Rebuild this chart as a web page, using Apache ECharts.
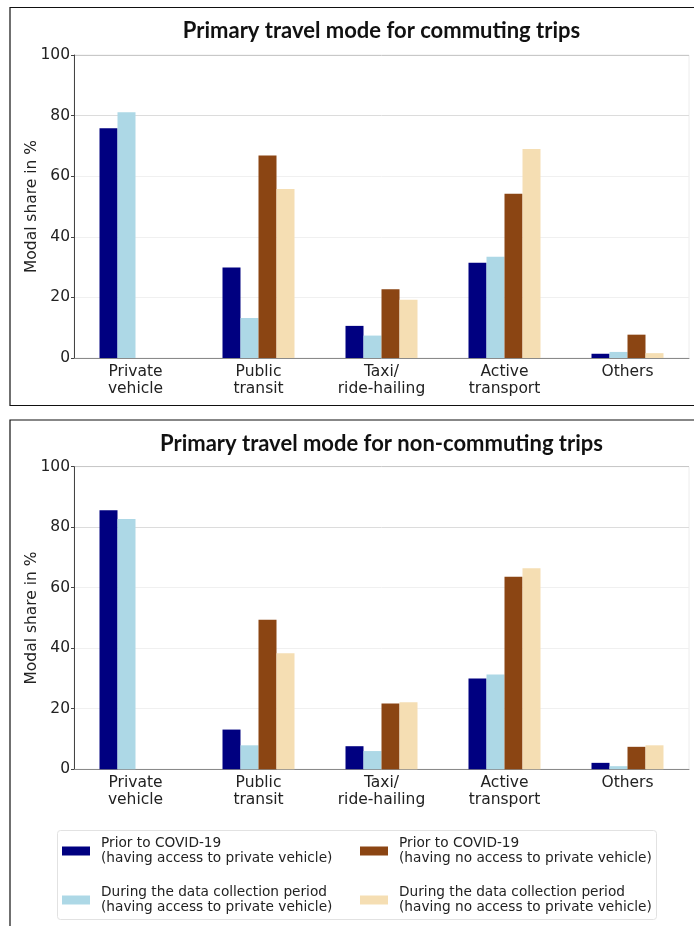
<!DOCTYPE html>
<html>
<head>
<meta charset="utf-8">
<script src="https://cdn.jsdelivr.net/npm/echarts@6/dist/echarts.min.js"></script>
<style>
  html, body { margin: 0; padding: 0; background: #fff; }
  #chart { width: 694px; height: 926px; }
</style>
</head>
<body>
<div id="chart"></div>
<script>
// Travel mode categories (x axis)
const categories = ['Private\nvehicle', 'Public\ntransit', 'Taxi/\nride-hailing', 'Active\ntransport', 'Others'];

// Legend / series labels
const seriesNames = [
  'Prior to COVID-19\n(having access to private vehicle)',
  'During the data collection period\n(having access to private vehicle)',
  'Prior to COVID-19\n(having no access to private vehicle)',
  'During the data collection period\n(having no access to private vehicle)'
];

// Modal share (%) — commuting trips
const commuteAccessPrior     = [75.8, 29.9, 10.6, 31.4, 1.4];
const commuteAccessDuring    = [81.1, 13.2, 7.4, 33.4, 2.0];
const commuteNoAccessPrior   = [null, 66.8, 22.7, 54.2, 7.7];
const commuteNoAccessDuring  = [null, 55.8, 19.2, 69.0, 1.6];

// Modal share (%) — non-commuting trips
const nonCommuteAccessPrior    = [85.6, 13.1, 7.6, 30.0, 2.1];
const nonCommuteAccessDuring   = [82.7, 7.9, 6.0, 31.3, 1.0];
const nonCommuteNoAccessPrior  = [null, 49.4, 21.7, 63.6, 7.4];
const nonCommuteNoAccessDuring = [null, 38.3, 22.1, 66.4, 7.9];

// Y axis scale
const yMin = 0, yMax = 100, yStep = 20;

const panelTitles = ['Primary travel mode for commuting trips', 'Primary travel mode for non-commuting trips'];
const yAxisName = 'Modal share in %';

const colors = ['#000080', '#ADD8E6', '#8B4513', '#F5DEB3'];
const FONT = 'DejaVu Sans';

const chart = echarts.init(document.getElementById('chart'), null, { renderer: 'canvas' });

function xAxisFor(gridIndex) {
  return {
    type: 'category', gridIndex, data: categories,
    axisLine: { show: true, lineStyle: { color: '#8a8a8a', width: 1 } },
    axisTick: { show: false },
    axisLabel: { fontFamily: FONT, fontSize: 15.5, lineHeight: 17, color: '#222', margin: 5, interval: 0 },
    splitLine: { show: false }
  };
}
function yAxisFor(gridIndex) {
  return {
    type: 'value', gridIndex, min: yMin, max: yMax, interval: yStep,
    name: yAxisName, nameLocation: 'middle', nameGap: 34, nameMoveOverlap: false,
    nameTextStyle: { fontFamily: FONT, fontSize: 15.5, color: '#222' },
    axisLine: { show: true, lineStyle: { color: '#444', width: 1 } },
    axisTick: { show: true, length: 3, lineStyle: { color: '#444' } },
    axisLabel: { fontFamily: FONT, fontSize: 15.5, color: '#222', margin: 4 },
    splitLine: { show: true, lineStyle: { color: ['#cfcfcf', '#f0f0f0', '#f0f0f0', '#f0f0f0', '#dcdcdc', '#c8c8c8'], width: 1 } }
  };
}

const panels = [
  [commuteAccessPrior, commuteAccessDuring, commuteNoAccessPrior, commuteNoAccessDuring],
  [nonCommuteAccessPrior, nonCommuteAccessDuring, nonCommuteNoAccessPrior, nonCommuteNoAccessDuring]
];

const series = [];
panels.forEach((sets, gi) => {
  sets.forEach((vals, si) => {
    series.push({
      type: 'bar', name: seriesNames[si], xAxisIndex: gi, yAxisIndex: gi,
      data: vals, barWidth: 18, barGap: '0%',
      itemStyle: { color: colors[si] },
      emphasis: { disabled: true }
    });
  });
});

const legendText = { fontFamily: FONT, fontSize: 13.7, lineHeight: 15, color: '#222', padding: [0, 0, 0, 6] };
const titleText = { fontFamily: 'Lato', fontWeight: 'bold', fontSize: 22, color: '#111' };

const option = {
  backgroundColor: '#ffffff',
  animation: false,
  color: colors,
  title: [
    { text: panelTitles[0], left: 381.5, top: 20, textAlign: 'center', padding: 0, textStyle: titleText },
    { text: panelTitles[1], left: 381.5, top: 433, textAlign: 'center', padding: 0, textStyle: titleText }
  ],
  grid: [
    { left: 74, top: 55, width: 615, height: 303, show: true, borderColor: '#ececec', borderWidth: 1 },
    { left: 74, top: 466.7, width: 615, height: 302.5, show: true, borderColor: '#ececec', borderWidth: 1 }
  ],
  xAxis: [xAxisFor(0), xAxisFor(1)],
  yAxis: [yAxisFor(0), yAxisFor(1)],
  legend: [
    { data: [seriesNames[0], seriesNames[1]], orient: 'vertical', left: 62, top: 836, padding: 0,
      itemWidth: 28, itemHeight: 9, itemGap: 19, icon: 'rect', textStyle: legendText, selectedMode: false },
    { data: [seriesNames[2], seriesNames[3]], orient: 'vertical', left: 360, top: 836, padding: 0,
      itemWidth: 28, itemHeight: 9, itemGap: 19, icon: 'rect', textStyle: legendText, selectedMode: false }
  ],
  graphic: [
    // frame around the commuting panel
    { type: 'rect', silent: true, z: -1, shape: { x: 10, y: 7.5, width: 700, height: 398 },
      style: { fill: null, stroke: '#111', lineWidth: 1.2 } },
    // frame of the non-commuting panel (top and left edges)
    { type: 'polyline', silent: true, z: -1, shape: { points: [[10, 940], [10, 420], [700, 420]] },
      style: { fill: null, stroke: '#111', lineWidth: 1.2 } },
    // legend box
    { type: 'rect', silent: true, z: -1, shape: { x: 57.5, y: 830.5, width: 599, height: 89, r: 3 },
      style: { fill: '#fff', stroke: '#e2e2e2', lineWidth: 1 } }
  ],
  series
};

chart.setOption(option);
</script>
</body>
</html>
